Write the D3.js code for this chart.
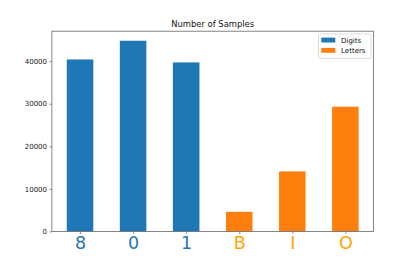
<!DOCTYPE html>
<html>
<head>
<meta charset="utf-8">
<script src="https://cdn.jsdelivr.net/npm/d3@7"></script>
<style>
  body { margin: 0; background: #fff; }
  text { font-family: "DejaVu Sans", sans-serif; }
</style>
</head>
<body>
<svg width="415" height="260"></svg>
<script>
// values
var labels = ['8', '0', '1', 'B', 'I', 'O'];
var counts = [40400, 44800, 39700, 4600, 14100, 29300];
var groups = ['Digits', 'Digits', 'Digits', 'Letters', 'Letters', 'Letters'];
var yTicks = [0, 10000, 20000, 30000, 40000];
var legendItems = ['Digits', 'Letters'];

var barColor = {Digits: '#1f77b4', Letters: '#ff7f0e'};
var labelColor = {Digits: '#1f77b4', Letters: '#ffa500'};

var width = 415, height = 260;
var m = {left: 51.9, right: 373.5, top: 31.2, bottom: 231.4};

var svg = d3.select('svg');

var x = d3.scaleLinear()
  .domain([-0.53, labels.length - 1 + 0.53])
  .range([m.left, m.right]);
var y = d3.scaleLinear()
  .domain([0, d3.max(counts) * 1.05])
  .range([m.bottom, m.top]);

var bw = x(0.5) - x(0);

//bars
svg.append('g').selectAll('rect')
  .data(counts)
  .enter().append('rect')
  .attr('x', (d, i) => x(i) - bw / 2)
  .attr('width', bw)
  .attr('y', d => y(d))
  .attr('height', d => y(0) - y(d))
  .style('fill', (d, i) => barColor[groups[i]]);

// y axis
var yAxis = svg.append('g')
  .attr('transform', 'translate(' + m.left + ',0)')
  .call(d3.axisLeft(y).tickValues(yTicks).tickSize(2.5).tickPadding(2.4).tickFormat(d3.format('d')));
yAxis.select('.domain').remove();
yAxis.selectAll('line').style('stroke', '#444').style('stroke-width', 0.6);
yAxis.selectAll('text').style('font-size', '7px').style('fill', '#222')
  .style('font-family', '"DejaVu Sans", sans-serif');

// x axis
var xAxis = svg.append('g')
  .attr('transform', 'translate(0,' + m.bottom + ')')
  .call(d3.axisBottom(x).tickValues(d3.range(labels.length)).tickSize(2.5).tickPadding(2.4)
    .tickFormat(i => labels[i]));
xAxis.select('.domain').remove();
xAxis.selectAll('line').style('stroke', '#444').style('stroke-width', 0.6);
xAxis.selectAll('text')
  .style('font-size', '17.5px')
  .style('font-family', '"DejaVu Sans", sans-serif')
  .style('fill', (i) => labelColor[groups[i]])
  .attr('dy', '0.72em');

// frame
svg.append('rect')
  .attr('x', m.left).attr('y', m.top)
  .attr('width', m.right - m.left).attr('height', m.bottom - m.top)
  .style('fill', 'none').style('stroke', '#666').style('stroke-width', 0.8);

// title
svg.append('text')
  .attr('x', (m.left + m.right) / 2)
  .attr('y', m.top - 4)
  .attr('text-anchor', 'middle')
  .style('font-size', '8.4px')
  .style('fill', '#111')
  .text('Number of Samples');

// legend
var lg = svg.append('g').attr('transform', 'translate(318.5,34)');
lg.append('rect')
  .attr('width', 52.5).attr('height', 24.3).attr('rx', 1.6)
  .style('fill', '#fff').style('fill-opacity', 0.8)
  .style('stroke', '#ccc').style('stroke-width', 0.7);
legendItems.forEach(function(d, i) {
  lg.append('rect')
    .attr('x', 2.8).attr('y', 3.6 + i * 10.3)
    .attr('width', 14).attr('height', 4.9)
    .style('fill', barColor[d]);
  lg.append('text')
    .attr('x', 22.6).attr('y', 8.6 + i * 10.3)
    .style('font-size', '7px')
    .style('fill', '#111')
    .text(d);
});
</script>
</body>
</html>
